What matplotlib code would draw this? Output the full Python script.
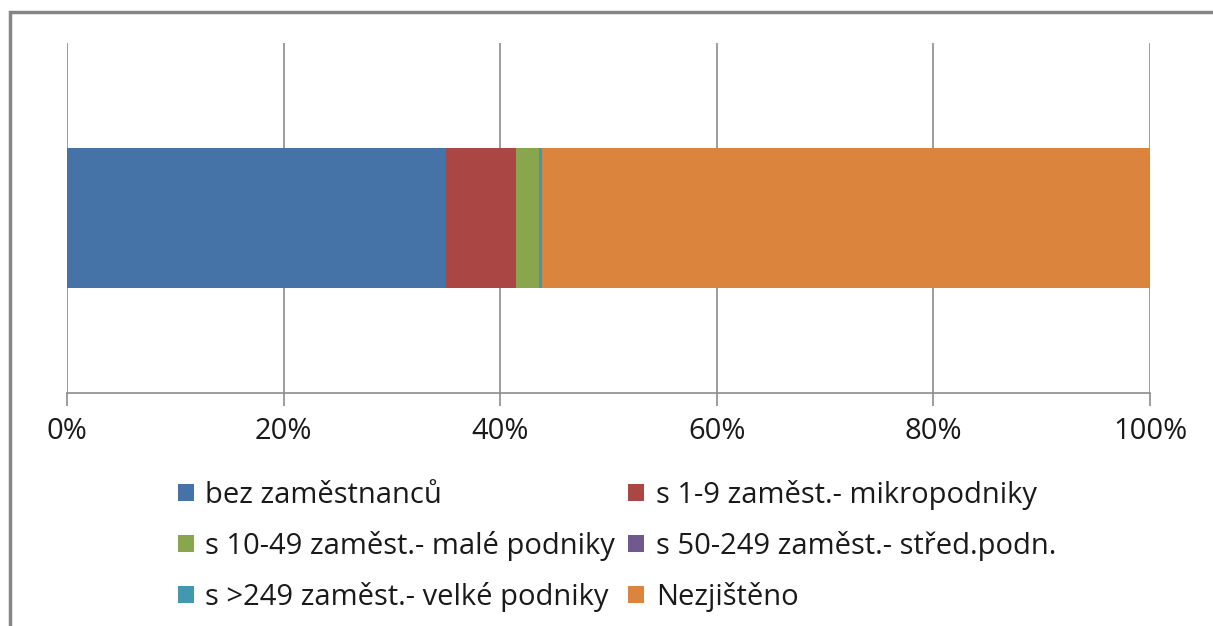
import matplotlib
matplotlib.use("Agg")
import matplotlib.pyplot as plt
from matplotlib.patches import Rectangle, Patch

categories = [""]
series_names = ["bez zaměstnanců", "s 1-9 zaměst.- mikropodniky",
                "s 10-49 zaměst.- malé podniky", "s 50-249 zaměst.- střed.podn.",
                "s >249 zaměst.- velké podniky", "Nezjištěno"]
series_values = [35.0, 6.5, 2.05, 0.05, 0.25, 56.15]
colors = ["#4572A7", "#AA4643", "#89A54E", "#71588F", "#4198AF", "#DB843D"]
tick_values = [0, 20, 40, 60, 80, 100]
tick_labels = ["0%", "20%", "40%", "60%", "80%", "100%"]

plt.rcParams['font.family'] = ['Open Sans', 'DejaVu Sans']

W, H = 1213, 626
fig = plt.figure(figsize=(W / 100, H / 100), dpi=100)
fig.patch.set_facecolor("white")
# outer frame
fig.patches.append(Rectangle((9.5 / W, -0.05), 1.1, (H - 12) / H + 0.05, transform=fig.transFigure,
                             fill=False, edgecolor="#868686", linewidth=2.5))

ax = fig.add_axes([67 / W, 1 - 393 / H, (1150 - 67) / W, (393 - 43) / H])
left = 0
handles = []
for name, v, c in zip(series_names, series_values, colors):
    ax.barh(0, v, left=left, height=0.4, color=c, edgecolor="none", zorder=3)
    left += v
    handles.append(Patch(facecolor=c, edgecolor="none", label=name))

ax.set_xlim(0, 100)
ax.set_ylim(-0.5, 0.5)
ax.set_yticks([])
ax.set_xticks(tick_values)
ax.set_xticklabels(tick_labels, fontsize=21, color="#1a1a1a")
ax.xaxis.grid(True, color="#8c8c8c", linewidth=1.2, zorder=0)
for s in ["top", "right", "left"]:
    ax.spines[s].set_visible(False)
ax.spines["bottom"].set_color("#8c8c8c")
ax.spines["bottom"].set_linewidth(1.2)
ax.tick_params(axis="x", length=9, width=1.2, color="#8c8c8c", pad=8)

order = [0, 2, 4, 1, 3, 5]
leg = fig.legend([handles[i] for i in order], [series_names[i] for i in order],
                 ncol=2, loc="upper left", bbox_to_anchor=(166 / W, 1 - 468 / H),
                 frameon=False, fontsize=21, handlelength=0.55, handleheight=0.55,
                 handletextpad=0.4, columnspacing=0.45, labelspacing=0.72,
                 borderaxespad=0)
for t in leg.get_texts():
    t.set_color("#1a1a1a")

fig.savefig("out.png", dpi=100, facecolor="white")
